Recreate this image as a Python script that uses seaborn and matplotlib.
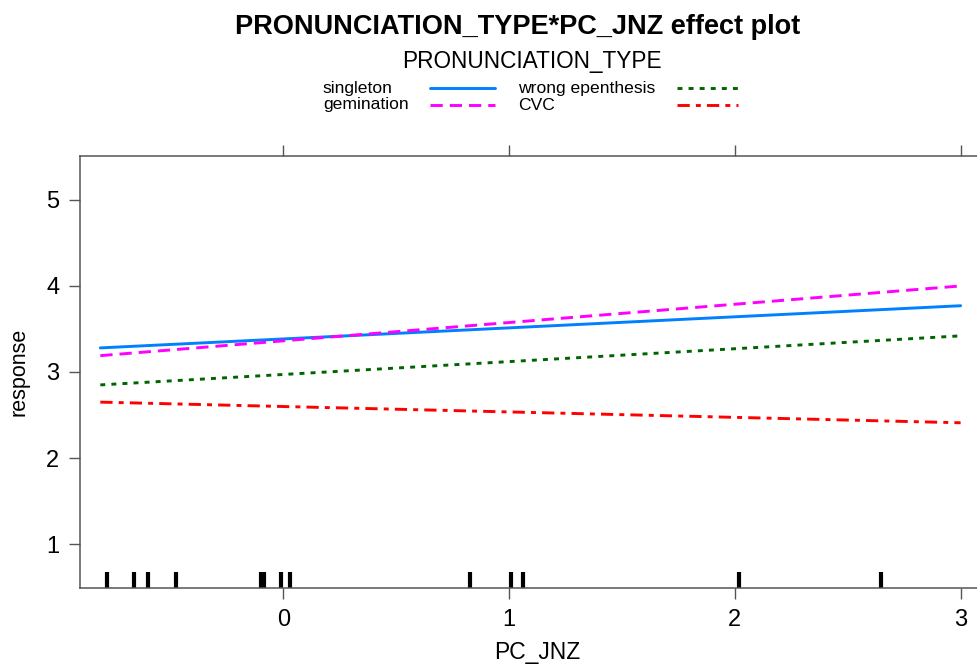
import pandas as pd
import seaborn as sns
import matplotlib.pyplot as plt
from matplotlib.lines import Line2D

# effect lines, read at the ends of the PC_JNZ range
pc_jnz = [-0.81, 3.0]
singleton = [3.28, 3.77]
gemination = [3.19, 4.00]
wrong_epenthesis = [2.85, 3.42]
cvc = [2.65, 2.41]

types = ["singleton", "gemination", "wrong epenthesis", "CVC"]
colors = ["#0080ff", "#ff00ff", "#006400", "#ff0000"]
dash_specs = ["", (4.2, 2.4), (1.7, 2.1), (4.2, 2.1, 1.7, 2.1)]

# observed PC_JNZ values (rug)
rug = [-0.78, -0.663, -0.599, -0.474, -0.098, -0.085, -0.008, 0.029,
       0.827, 1.009, 1.061, 2.019, 2.648]

sns.set_style("white")
plt.rcParams["font.family"] = ["Liberation Sans", "DejaVu Sans"]
plt.rcParams["text.color"] = "black"
plt.rcParams["axes.labelcolor"] = "black"
plt.rcParams["xtick.color"] = "black"
plt.rcParams["ytick.color"] = "black"

df = pd.DataFrame({
    "PC_JNZ": pc_jnz * 4,
    "response": singleton + gemination + wrong_epenthesis + cvc,
    "PRONUNCIATION_TYPE": [t for t in types for _ in pc_jnz],
})

fig = plt.figure(figsize=(9.78, 6.66), dpi=100)
ax = fig.add_axes([80 / 978, 1 - 588 / 666, 4.05 * 225.8 / 978, 432 / 666])

sns.lineplot(data=df, x="PC_JNZ", y="response", hue="PRONUNCIATION_TYPE",
             style="PRONUNCIATION_TYPE", palette=dict(zip(types, colors)),
             dashes=dict(zip(types, dash_specs)), lw=2.1, legend=False, ax=ax)
sns.rugplot(x=rug, height=0.037, linewidth=3, color="black", ax=ax)

ax.set_xlim(-0.9, 3.15)
ax.set_ylim(0.49, 5.51)
ax.set_xticks([0, 1, 2, 3])
ax.set_yticks([1, 2, 3, 4, 5])
ax.tick_params(axis="both", which="both", direction="out", length=8,
               width=1, color="#555555", labelsize=17, pad=7,
               bottom=True, left=True, top=True, right=True,
               labeltop=False, labelright=False)
for s in ax.spines.values():
    s.set_color("#555555")
    s.set_linewidth(1.1)
# slightly higher than the original so the underscore is not cut off
ax.set_xlabel("PC_JNZ", fontsize=16.5, labelpad=7)
ax.set_ylabel("response", fontsize=15.5, labelpad=12)

fig.text(0.529, 0.959, "PRONUNCIATION_TYPE*PC_JNZ effect plot",
         fontsize=19.5, fontweight="bold", ha="center", va="center")
fig.text(0.544, 0.907, "PRONUNCIATION_TYPE", fontsize=16.3,
         ha="center", va="center")

# lattice-style key: label on the left, line sample on the right
key_x = [(323, 430, 495), (518, 677, 738)]
key_y = [88, 105]
for i, t in enumerate(types):
    col, row = divmod(i, 2)
    tx, lx0, lx1 = key_x[col]
    y = 1 - key_y[row] / 666
    fig.text(tx / 978, y, t, fontsize=12.6, ha="left", va="center")
    ln = Line2D([lx0 / 978, lx1 / 978], [y, y], transform=fig.transFigure,
                color=colors[i], lw=2.1)
    if dash_specs[i]:
        ln.set_dashes(dash_specs[i])
    fig.add_artist(ln)

fig.savefig("out.png", dpi=100)
